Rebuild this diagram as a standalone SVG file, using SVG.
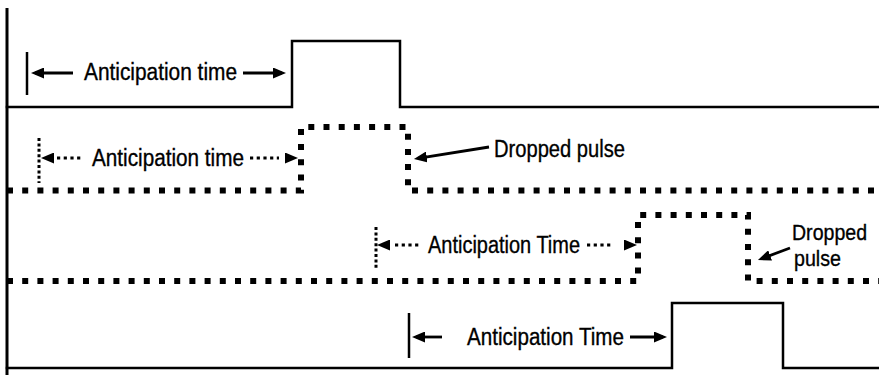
<svg xmlns="http://www.w3.org/2000/svg" width="879" height="375" viewBox="0 0 879 375">
<style>
  .bg { fill: #ffffff; }
  .solid { fill: none; stroke: #000; stroke-width: 2.5; stroke-linecap: square; stroke-linejoin: miter; }
  .dotted { fill: none; stroke: #000; stroke-width: 6; stroke-dasharray: 6 9.2; }
  .axis { fill: none; stroke: #000; stroke-width: 3; }
  .tick { fill: none; stroke: #000; stroke-width: 2.5; }
  .tickdot { fill: none; stroke: #000; stroke-width: 3; stroke-dasharray: 3 2.4; }
  .shaft { fill: none; stroke: #000; stroke-width: 2.8; marker-end: url(#ah); }
  .shaftdot { fill: none; stroke: #000; stroke-width: 3.2; stroke-dasharray: 3.2 3.5; }
  .head { fill: none; stroke: none; marker-end: url(#ah); }
  .lbl { font-family: "Liberation Sans", Arial, sans-serif; font-size: 23.5px; fill: #000; stroke: #000; stroke-width: 0.35; }
  .lbl-edge { font-size: 22px; }
</style>
<defs>
  <marker id="ah" viewBox="0 0 13 11" refX="9" refY="5.5" markerWidth="13" markerHeight="11" markerUnits="userSpaceOnUse" orient="auto">
    <path d="M0,0 L13,5.5 L0,11 Z" fill="#000"/>
  </marker>
</defs>
<rect class="bg" x="0" y="0" width="879" height="375"/>

<g id="axis">
  <path class="axis" d="M7,8 V375"/>
</g>

<g id="signal-1">
  <path class="solid" d="M7,107 H292 V41 H400 V107 H879"/>
</g>
<g id="signal-2">
  <path class="dotted" d="M7,190.5 H301 V127 H408 V190.5 H879"/>
</g>
<g id="signal-3">
  <path class="dotted" d="M7,281 H638 V215 H748 V281 H879"/>
</g>
<g id="signal-4">
  <path class="solid" d="M7,368 H672 V303 H783 V368 H879"/>
</g>

<g id="label-1">
  <path class="tick" d="M27,52 V95"/>
  <text class="lbl" x="84" y="80" textLength="153" lengthAdjust="spacingAndGlyphs">Anticipation time</text>
</g>
<g id="label-2">
  <path class="tickdot" d="M39,138 V183"/>
  <text class="lbl" x="92" y="166" textLength="152" lengthAdjust="spacingAndGlyphs">Anticipation time</text>
</g>
<g id="label-dropped-1">
  <text class="lbl" x="494" y="157" textLength="131" lengthAdjust="spacingAndGlyphs">Dropped pulse</text>
</g>
<g id="label-3">
  <path class="tickdot" d="M376,227 V270"/>
  <text class="lbl" x="428" y="253" textLength="152" lengthAdjust="spacingAndGlyphs">Anticipation Time</text>
</g>
<g id="label-dropped-2">
  <text class="lbl lbl-edge" x="792" y="240" textLength="75" lengthAdjust="spacingAndGlyphs">Dropped</text>
  <text class="lbl lbl-edge" x="794" y="266" textLength="47" lengthAdjust="spacingAndGlyphs">pulse</text>
</g>
<g id="label-4">
  <path class="tick" d="M409,313 V358"/>
  <text class="lbl" x="467" y="345" textLength="157" lengthAdjust="spacingAndGlyphs">Anticipation Time</text>
</g>

<g id="connectors">
  <!-- row 1 -->
  <path class="shaft" d="M73,73 H35"/>
  <path class="shaft" d="M243,73 H282"/>
  <!-- row 2 -->
  <path class="head" d="M46,158 H45"/>
  <path class="shaftdot" d="M57,158 H83"/>
  <path class="shaftdot" d="M250,158 H279"/>
  <path class="head" d="M293,158 H294"/>
  <path class="shaft" d="M489,147 L417.9,158.4"/>
  <!-- row 3 -->
  <path class="head" d="M382,245 H381"/>
  <path class="shaftdot" d="M395,245 H421"/>
  <path class="shaftdot" d="M587,245 H613"/>
  <path class="head" d="M632,245 H633"/>
  <path class="shaft" d="M790,248 L761.7,258.6"/>
  <!-- row 4 -->
  <path class="shaft" d="M442,337 H416"/>
  <path class="shaft" d="M630,337 H663"/>
</g>
</svg>
